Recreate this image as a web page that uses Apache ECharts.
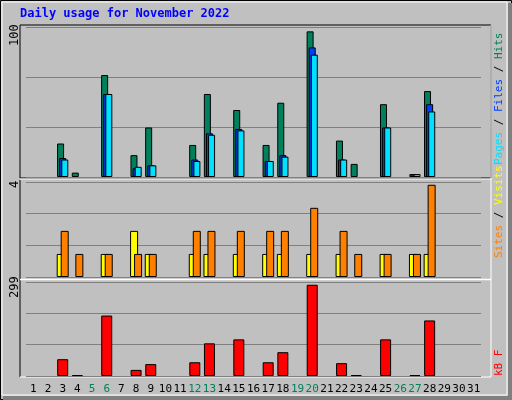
<!DOCTYPE html>
<html>
<head>
<meta charset="utf-8">
<script src="https://cdn.jsdelivr.net/npm/echarts@6/dist/echarts.min.js"></script>
<style>html,body{margin:0;padding:0;background:#c0c0c0}#chart{width:512px;height:400px}</style>
</head>
<body>
<div id="chart"></div>
<script>
// days of the month, weekends are drawn green
const days = Array.from({ length: 31 }, (_, i) => String(i + 1))
const weekends = ['5', '6', '12', '13', '19', '20', '26', '27']

const hits =   [0, 0, 23, 3, 0, 70, 0, 15, 34, 0, 0, 22, 57, 0, 46, 0, 22, 51, 0, 100, 0, 25, 9, 0, 50, 0, 2, 59, 0, 0, 0]
const files =  [0, 0, 13, 0, 0, 57, 0, 6, 8, 0, 0, 12, 30, 0, 33, 0, 11, 15, 0, 89, 0, 12, 0, 0, 34, 0, 2, 50, 0, 0, 0]
const pages =  [0, 0, 12, 0, 0, 57, 0, 7, 8, 0, 0, 11, 29, 0, 32, 0, 11, 14, 0, 84, 0, 12, 0, 0, 34, 0, 2, 45, 0, 0, 0]
const sites =  [0, 0, 1, 0, 0, 1, 0, 2, 1, 0, 0, 1, 1, 0, 1, 0, 1, 1, 0, 1, 0, 1, 0, 0, 1, 0, 1, 1, 0, 0, 0]
const visits = [0, 0, 2, 1, 0, 1, 0, 1, 1, 0, 0, 2, 2, 0, 2, 0, 2, 2, 0, 3, 0, 2, 1, 0, 1, 0, 1, 4, 0, 0, 0]
const kbytes = [0, 0, 55, 3, 0, 198, 0, 20, 39, 0, 0, 45, 107, 0, 120, 0, 45, 78, 0, 299, 0, 42, 3, 0, 120, 0, 3, 182, 0, 0, 0]

const maxHits = 100, maxVisits = 4, maxKB = 299

var myChart = echarts.init(document.getElementById('chart'))
const mono = 'DejaVu Sans Mono'
// empty days draw no bar at all
const nz = (arr) => arr.map(v => v === 0 ? null : v)

function xAxis (idx, show) {
  return {
    type: 'category', gridIndex: idx, data: days,
    axisLine: { show: false }, axisTick: { show: false },
    axisLabel: {
      show: show, interval: 0, fontFamily: mono, fontSize: 11, margin: 8,
      color: (v) => weekends.includes(v) ? '#00805c' : '#000'
    }
  }
}
function yAxis (idx, max) {
  return {
    type: 'value', gridIndex: idx, min: 0, max: max * 1.03, interval: max * 1.03 / 3,
    axisLabel: { show: false }, axisLine: { show: false }, axisTick: { show: false },
    splitLine: { lineStyle: { color: '#808080', width: 1 } }
  }
}
const border = { borderColor: '#000', borderWidth: 1 }

let option = {
  backgroundColor: '#c0c0c0',
  animation: false,
  grid: [
    { left: 26, right: 31, top: 27, height: 150 },
    { left: 26, right: 31, top: 182, height: 95 },
    { left: 26, right: 31, top: 282, height: 94 }
  ],
  xAxis: [xAxis(0, false), xAxis(1, false), xAxis(2, true)],
  yAxis: [yAxis(0, maxHits), yAxis(1, maxVisits), yAxis(2, maxKB)],
  series: [
    { type: 'bar', xAxisIndex: 0, yAxisIndex: 0, data: nz(hits), barWidth: 7, barGap: '-70%', itemStyle: { color: '#00805c', ...border } },
    { type: 'bar', xAxisIndex: 0, yAxisIndex: 0, data: nz(files), barWidth: 7, barGap: '-70%', itemStyle: { color: '#0040ff', ...border } },
    { type: 'bar', xAxisIndex: 0, yAxisIndex: 0, data: nz(pages), barWidth: 7, barGap: '-70%', itemStyle: { color: '#00e0ff', ...border } },
    { type: 'bar', xAxisIndex: 1, yAxisIndex: 1, data: nz(sites), barWidth: 8, barGap: '-50%', itemStyle: { color: '#ffff00', ...border } },
    { type: 'bar', xAxisIndex: 1, yAxisIndex: 1, data: nz(visits), barWidth: 8, barGap: '-50%', itemStyle: { color: '#ff8000', ...border } },
    { type: 'bar', xAxisIndex: 2, yAxisIndex: 2, data: nz(kbytes), barWidth: 11, itemStyle: { color: '#ff0000', ...border } }
  ],
  graphic: [
    // outer frame
    { type: 'rect', shape: { x: 0.5, y: 0.5, width: 511, height: 399 }, style: { fill: null, stroke: '#000' } },
    { type: 'rect', shape: { x: 2, y: 2, width: 505, height: 393 }, style: { fill: null, stroke: '#fff' } },
    { type: 'rect', shape: { x: 508, y: 3, width: 4, height: 397 }, style: { fill: '#808080' } },
    { type: 'rect', shape: { x: 3, y: 396, width: 509, height: 4 }, style: { fill: '#808080' } },
    // panel frames
    { type: 'rect', shape: { x: 20, y: 25, width: 471, height: 153 }, style: { fill: null, stroke: '#000' } },
    { type: 'line', shape: { x1: 20, y1: 179, x2: 491, y2: 179 }, style: { stroke: '#fff' } },
    { type: 'line', shape: { x1: 20, y1: 180, x2: 20, y2: 377 }, style: { stroke: '#000' } },
    { type: 'line', shape: { x1: 20, y1: 279.5, x2: 491, y2: 279.5 }, style: { stroke: '#fff', lineWidth: 1.5 } },
    { type: 'line', shape: { x1: 20, y1: 377, x2: 491, y2: 377 }, style: { stroke: '#fff' } },
    { type: 'line', shape: { x1: 491, y1: 25, x2: 491, y2: 377 }, style: { stroke: '#fff' } },
    // title
    { type: 'text', left: 20, top: 8, style: { text: 'Daily usage for November 2022', fill: '#0000ff', font: 'bold 12px ' + mono } },
    // max labels
    { type: 'text', x: 9, y: 46, rotation: Math.PI / 2, style: { text: String(maxHits), fill: '#000', font: '12px ' + mono } },
    { type: 'text', x: 9, y: 188, rotation: Math.PI / 2, style: { text: String(maxVisits), fill: '#000', font: '12px ' + mono } },
    { type: 'text', x: 9, y: 298, rotation: Math.PI / 2, style: { text: String(maxKB), fill: '#000', font: '12px ' + mono } },
    // right side legends
    {
      type: 'text', x: 494, y: 165, rotation: Math.PI / 2,
      style: {
        text: '{p|Pages}{s| / }{f|Files}{s| / }{h|Hits}', font: '11px ' + mono,
        rich: { p: { fill: '#00e0ff' }, f: { fill: '#0040ff' }, h: { fill: '#00805c' }, s: { fill: '#000' } }
      }
    },
    {
      type: 'text', x: 494, y: 258, rotation: Math.PI / 2,
      style: {
        text: '{v|Sites}{s| / }{w|Visits}', font: '11px ' + mono,
        rich: { v: { fill: '#ff8000' }, w: { fill: '#ffff00' }, s: { fill: '#000' } }
      }
    },
    {
      type: 'text', x: 494, y: 376, rotation: Math.PI / 2,
      style: { text: 'kB F', fill: '#ff0000', font: '11px ' + mono }
    }
  ]
}
myChart.setOption(option)
</script>
</body>
</html>
